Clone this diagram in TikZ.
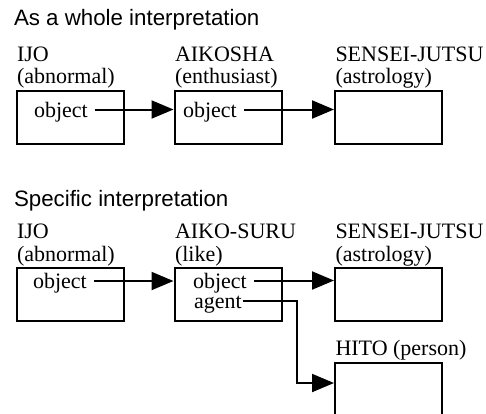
\documentclass[tikz,border=0pt]{standalone}
\usepackage{fontspec}
\setmainfont{Liberation Serif}
\setsansfont{Liberation Sans}
\usetikzlibrary{arrows.meta}

\begin{document}
\begin{tikzpicture}[x=1pt, y=-1pt, line width=2pt,
    frame/.style={draw, minimum width=107pt, minimum height=53pt, inner sep=0pt, anchor=north west},
    head/.style={anchor=south west, align=left, inner sep=0pt, xshift=0.5pt, font=\fontsize{22}{22.5}\selectfont},
    slot/.style={anchor=base west, inner sep=0pt, text height=15pt, text depth=0pt, font=\fontsize{22}{22.5}\selectfont},
    title/.style={anchor=base west, inner sep=0pt, font=\sffamily\fontsize{22.3}{24}\selectfont},
    link/.style={-{Triangle[length=22pt,width=18pt]}}]

    \useasboundingbox (0,0) rectangle (486,413);
    \clip (0,0) rectangle (486,413);

    \def\RowA{89.5}   % top of the upper boxes
    \def\RowB{267}    % top of the lower boxes

    % as a whole
    \node[title] (tWhole) at (13,25) {As a whole interpretation};

    \node[frame] (ijoA)    at (15.5,\RowA) {};
    \node[frame] (aikosha) at (173.5,\RowA) {};
    \node[frame] (senA)    at (334,\RowA) {};

    \node[head] (hIjoA) at (ijoA.north west) {IJO\\(abnormal)};
    \node[head] (hAiko) at (aikosha.north west) {AIKOSHA\\(enthusiast)};
    \node[head] (hSenA) at (senA.north west) {SENSEI-JUTSU\\(astrology)};

    \node[slot] (objA1) at (33,117) {object};
    \node[slot] (objA2) at (182,117) {object};

    \draw[link, shorten <=6pt] (objA1.east) -- (objA1.east -| aikosha.west);
    \draw[link, shorten <=6pt] (objA2.east) -- (objA2.east -| senA.west);

    % specific
    \node[title] (tSpec) at (13,206.5) {Specific interpretation};

    \node[frame] (ijoB)  at (15.5,\RowB) {};
    \node[frame] (aikoB) at (173.5,\RowB) {};
    \node[frame] (senB)  at (334,\RowB) {};
    \node[frame] (hito)  at (334,361.5) {};

    \node[head] (hIjoB) at (ijoB.north west) {IJO\\(abnormal)};
    \node[head] (hAikoB) at (aikoB.north west) {AIKO-SURU\\(like)};
    \node[head] (hSenB) at (senB.north west) {SENSEI-JUTSU\\(astrology)};
    \node[head] (hHito) at (hito.north west) {HITO (person)};

    \node[slot] (objB1) at (32,288.5) {object};
    \node[slot] (objB2) at (192,288) {object};
    \node[slot] (agent) at (193,308) {agent};

    \coordinate (bend) at (296.5,383);

    \draw[link, shorten <=6pt] (objB1.east) -- (objB1.east -| aikoB.west);
    \draw[link, shorten <=6pt] (objB2.east) -- (objB2.east -| senB.west);
    \draw[link] (agent.east) -| (bend) -- (bend -| hito.west);
\end{tikzpicture}
\end{document}
